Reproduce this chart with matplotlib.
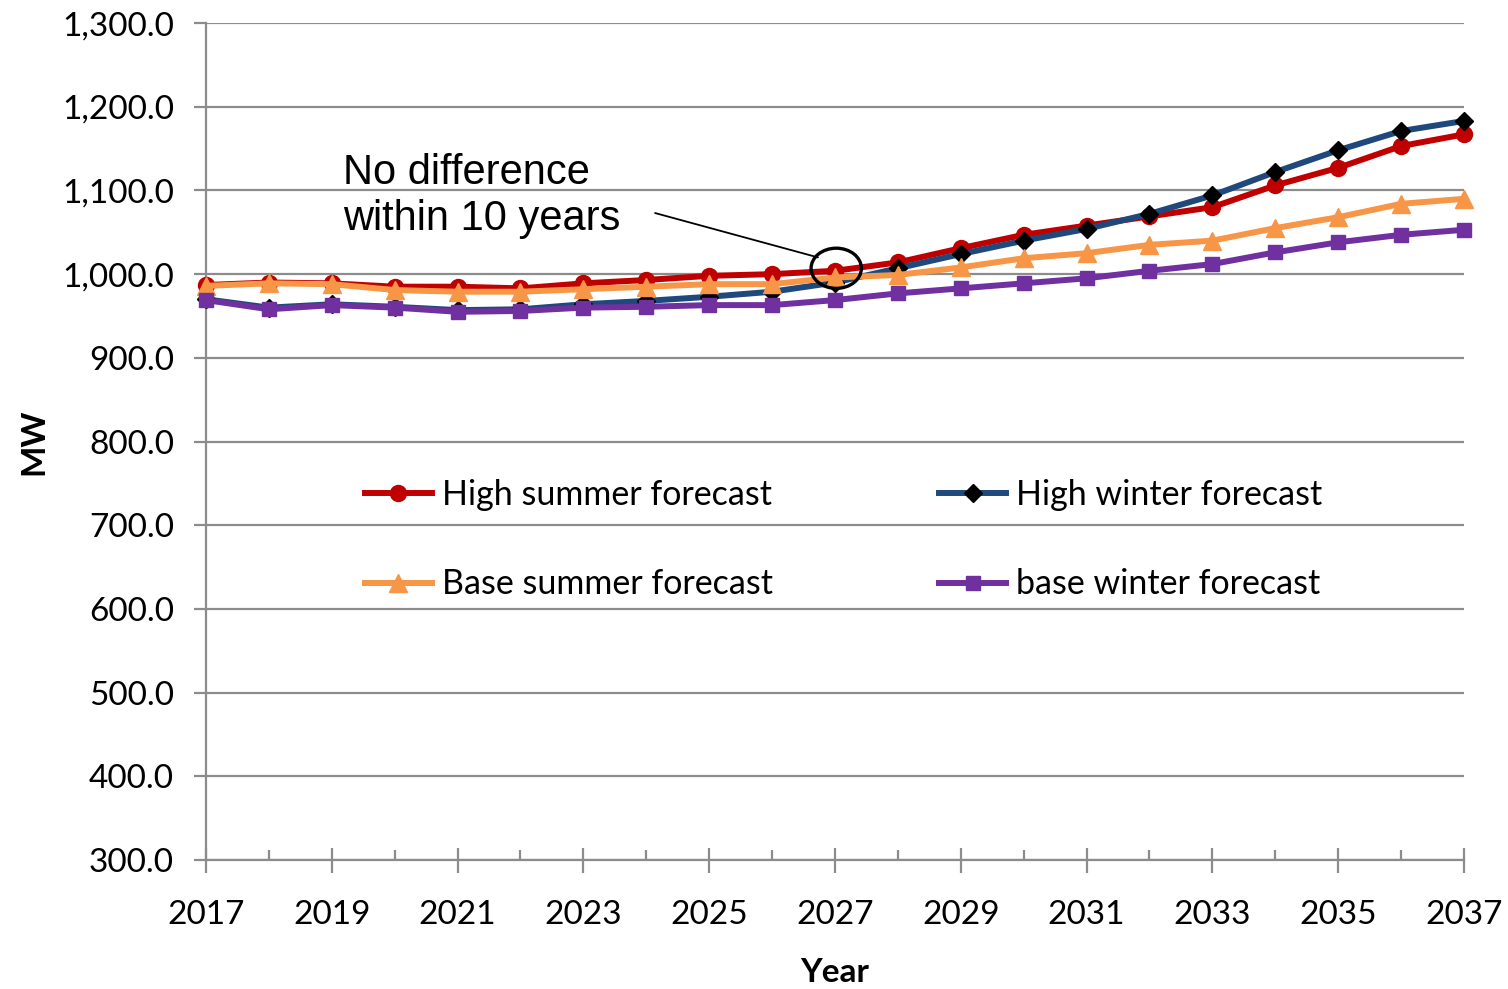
import matplotlib
matplotlib.use("Agg")
import matplotlib.pyplot as plt
from matplotlib.patches import Ellipse
from matplotlib.ticker import FuncFormatter, MultipleLocator
import numpy as np

years = list(range(2017, 2038))

high_summer = [987, 990, 989, 985, 985, 983, 989, 993, 998, 1000, 1004,
               1014, 1031, 1047, 1058, 1069, 1080, 1106, 1127, 1153, 1167]
high_winter = [970, 960, 964, 961, 957, 958, 964, 968, 973, 979, 990,
               1007, 1024, 1040, 1054, 1072, 1094, 1122, 1148, 1171, 1183]
base_summer = [986, 989, 988, 981, 979, 979, 982, 985, 988, 988, 996,
               999, 1008, 1019, 1025, 1035, 1040, 1055, 1068, 1084, 1090]
base_winter = [969, 958, 963, 960, 955, 956, 960, 961, 963, 963, 969,
               977, 983, 989, 995, 1004, 1012, 1026, 1038, 1047, 1053]

plt.rcParams["font.family"] = ["Lato", "DejaVu Sans"]
fs = 24

fig = plt.figure(figsize=(15.08, 9.89), dpi=100)
ax = fig.add_axes([0.1366, 0.1304, 0.8342, 0.8463])

lw = 4.3
ax.plot(years, high_summer, color="#C00000", lw=lw, marker="o", ms=11.5,
        label="High summer forecast", clip_on=False, zorder=3)
ax.plot(years, high_winter, color="#1F497D", lw=lw, marker="D", ms=9.5,
        mfc="black", mec="black", label="High winter forecast", clip_on=False, zorder=4)
ax.plot(years, base_summer, color="#F79646", lw=lw, marker="^", ms=12.5,
        label="Base summer forecast", clip_on=False, zorder=5)
ax.plot(years, base_winter, color="#7030A0", lw=lw, marker="s", ms=10.5,
        label="base winter forecast", clip_on=False, zorder=6)

ax.set_xlim(2017, 2037)
ax.set_ylim(300, 1300)
ax.yaxis.set_major_locator(MultipleLocator(100))
ax.yaxis.set_major_formatter(FuncFormatter(lambda v, p: f"{v:,.1f}"))
ax.set_xticks(years[::2])
ax.set_xticks(years, minor=True)
ax.set_xticklabels([str(y) for y in years[::2]])

ax.grid(axis="y", color="#8c8c8c", lw=1.6)
ax.set_axisbelow(True)
for s in ["top", "right"]:
    ax.spines[s].set_visible(False)
for s in ["left", "bottom"]:
    ax.spines[s].set_color("#8c8c8c")
    ax.spines[s].set_linewidth(1.6)

ax.tick_params(axis="x", which="major", direction="inout", length=18, width=1.6,
               color="#8c8c8c", labelsize=fs, pad=20)
ax.tick_params(axis="x", which="minor", direction="in", length=7, width=1.6,
               color="#8c8c8c")
ax.tick_params(axis="y", which="major", direction="out", length=9, width=1.6,
               color="#8c8c8c", labelsize=fs, pad=14)

ax.set_xlabel("Year", fontsize=fs, fontweight="bold", labelpad=20)
ax.set_ylabel("MW", fontsize=fs, fontweight="bold", labelpad=10)

# annotation
ax.add_patch(Ellipse((2027.02, 1007), 0.8, 48, fill=False, ec="black", lw=2.4, zorder=8,
                     clip_on=False))
ax.annotate("", xy=(2026.73, 1020), xytext=(2024.14, 1073),
            arrowprops=dict(arrowstyle="-", color="black", lw=1.3, shrinkA=0, shrinkB=0))
ax.text(2019.18, 1093, "No difference\nwithin 10 years", fontsize=30,
        family=["Liberation Sans", "DejaVu Sans"], va="center", ha="left",
        linespacing=1.2)

handles, labels = ax.get_legend_handles_labels()
order = [0, 2, 1, 3]
ax.legend([handles[i] for i in order], [labels[i] for i in order], ncol=2,
          loc="upper left", bbox_to_anchor=(0.113, 0.476), frameon=False,
          fontsize=24.5, handlelength=1.95, handletextpad=0.3, columnspacing=4.9,
          labelspacing=1.7, borderpad=0)

fig.savefig("out.png", dpi=100)
